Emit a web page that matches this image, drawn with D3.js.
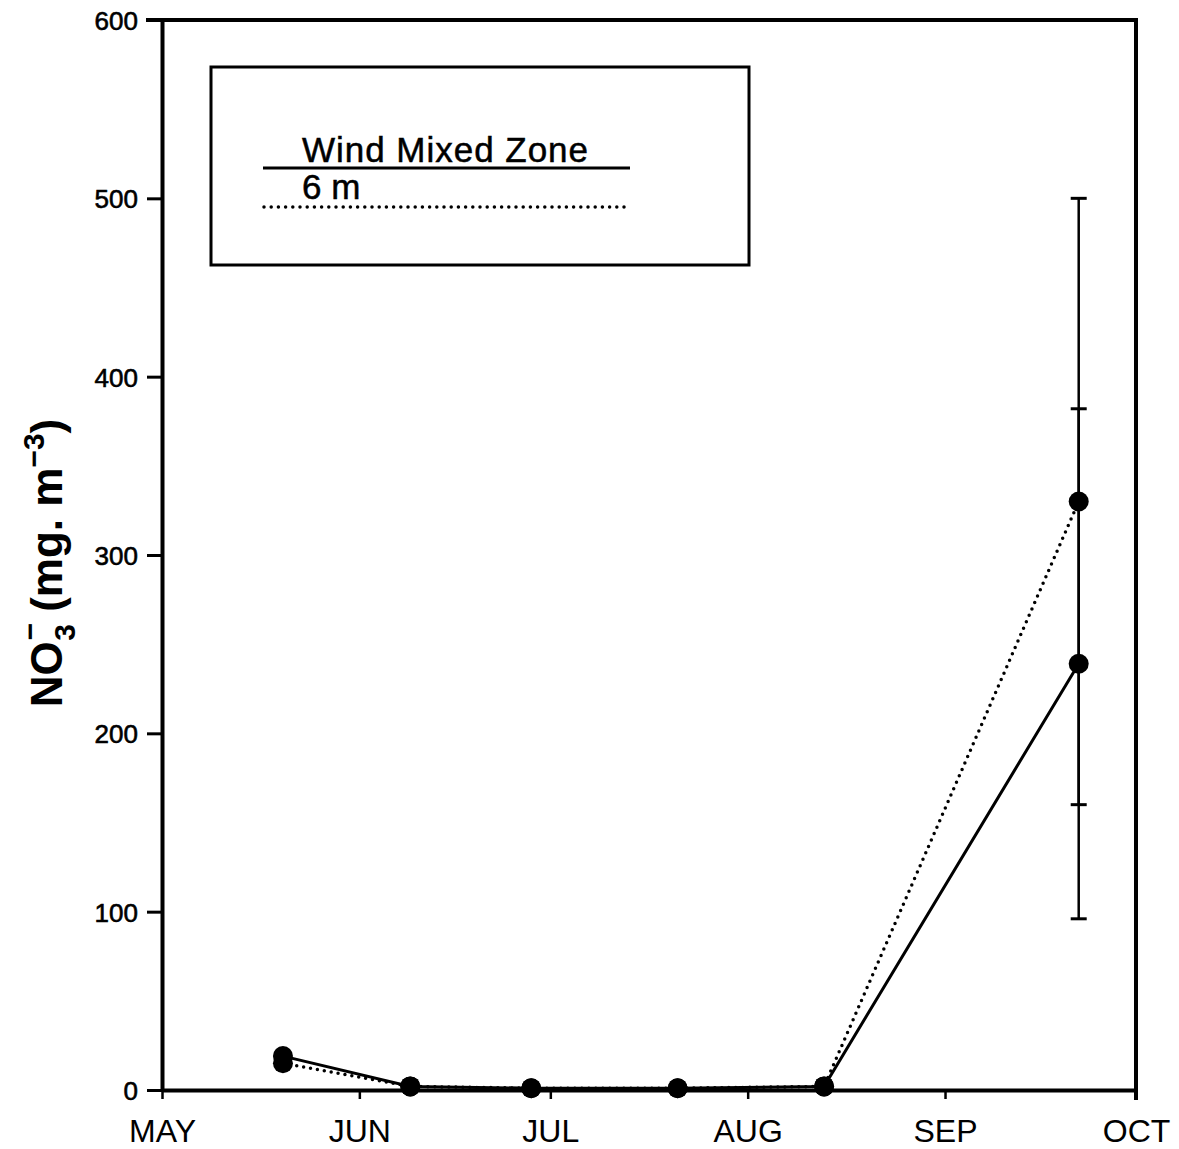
<!DOCTYPE html>
<html>
<head>
<meta charset="utf-8">
<script src="https://cdn.jsdelivr.net/npm/d3@7"></script>
<style>
  body { margin: 0; background: #fff; }
  text { font-family: "Liberation Sans", Arial, sans-serif; fill: #000; }
</style>
</head>
<body>
<script>
// sampling dates and values
var sampleDates = ["2001-05-20", "2001-06-09", "2001-06-28", "2001-07-21", "2001-08-13", "2001-09-22"];
var windMixed = [19, 2, 1, 1, 2, 239];
var windMixedErr = [0, 0, 0, 0, 0, 143];
var sixMetre = [15, 2, 1, 1, 2, 330];
var sixMetreErr = [0, 0, 0, 0, 0, 170];
var monthTicks = ["2001-05-01", "2001-06-01", "2001-07-01", "2001-08-01", "2001-09-01", "2001-10-01"];
var monthLabels = ["MAY", "JUN", "JUL", "AUG", "SEP", "OCT"];
var yTicks = [0, 100, 200, 300, 400, 500, 600];

var width = 1179, height = 1149;
var plotLeft = 162, plotRight = 1136, plotTop = 20, plotBottom = 1090;

var parse = d3.timeParse("%Y-%m-%d");

var svg = d3.select("body").append("svg")
	.attr("width", width)
	.attr("height", height);

var x = d3.scaleTime()
	.domain([parse(monthTicks[0]), parse(monthTicks[5])])
	.range([plotLeft, plotRight]);

var y = d3.scaleLinear()
	.domain([0, 600])
	.range([plotBottom, plotTop]);

// y axis
var yAxis = svg.append("g")
	.attr("transform", "translate(" + plotLeft + ",0)")
	.call(d3.axisLeft(y).tickValues(yTicks).tickSize(15).tickSizeOuter(0).tickPadding(9));
yAxis.select(".domain").attr("stroke-width", 4);
yAxis.selectAll(".tick line").attr("stroke-width", 3);
yAxis.selectAll(".tick text")
	.style("font-size", "26px")
	.attr("stroke", "#000").attr("stroke-width", 0.6)
	.attr("dy", "0.36em");

// x axis
var xAxis = svg.append("g")
	.attr("transform", "translate(0," + plotBottom + ")")
	.call(d3.axisBottom(x)
		.tickValues(monthTicks.map(parse))
		.tickFormat(function(d, i) { return monthLabels[i]; })
		.tickSize(9).tickSizeOuter(0).tickPadding(20));
xAxis.select(".domain").attr("stroke-width", 4);
xAxis.selectAll(".tick line").attr("stroke-width", 2.5);
xAxis.selectAll(".tick text").style("font-size", "32px");

// frame top and right
svg.append("line")
	.attr("x1", plotLeft - 16).attr("x2", plotRight + 2)
	.attr("y1", plotTop).attr("y2", plotTop)
	.attr("stroke", "#000").attr("stroke-width", 4);
svg.append("line")
	.attr("x1", plotRight).attr("x2", plotRight)
	.attr("y1", plotTop).attr("y2", plotBottom + 10)
	.attr("stroke", "#000").attr("stroke-width", 4);

// lines
var line = function(vals) {
	return d3.line()
		.x(function(d, i) { return x(parse(sampleDates[i])); })
		.y(function(d) { return y(d); })(vals);
};

svg.append("path")
	.attr("d", line(sixMetre))
	.attr("fill", "none")
	.attr("stroke", "#000")
	.attr("stroke-width", 3.5)
	.attr("stroke-linecap", "round")
	.attr("stroke-dasharray", "0,7");

svg.append("path")
	.attr("d", line(windMixed))
	.attr("fill", "none")
	.attr("stroke", "#000")
	.attr("stroke-width", 3);

// error bars
function errorBars(vals, errs) {
	var g = svg.append("g");
	vals.forEach(function(v, i) {
		if (!errs[i]) return;
		var cx = x(parse(sampleDates[i]));
		g.append("line")
			.attr("x1", cx).attr("x2", cx)
			.attr("y1", y(v - errs[i])).attr("y2", y(v + errs[i]))
			.attr("stroke", "#000").attr("stroke-width", 2.5);
		[v - errs[i], v + errs[i]].forEach(function(e) {
			g.append("line")
				.attr("x1", cx - 8).attr("x2", cx + 8)
				.attr("y1", y(e)).attr("y2", y(e))
				.attr("stroke", "#000").attr("stroke-width", 3);
		});
	});
}
errorBars(windMixed, windMixedErr);
errorBars(sixMetre, sixMetreErr);

// markers
[sixMetre, windMixed].forEach(function(vals) {
	svg.append("g").selectAll("circle")
		.data(vals)
		.enter().append("circle")
		.attr("cx", function(d, i) { return x(parse(sampleDates[i])); })
		.attr("cy", function(d) { return y(d); })
		.attr("r", 10)
		.attr("fill", "#000");
});

// legend
var legend = svg.append("g");
legend.append("rect")
	.attr("x", 211).attr("y", 67)
	.attr("width", 538).attr("height", 198)
	.attr("fill", "none")
	.attr("stroke", "#000")
	.attr("stroke-width", 3);
legend.append("text")
	.attr("x", 302).attr("y", 162)
	.style("font-size", "35px")
	.attr("stroke", "#000").attr("stroke-width", 0.5)
	.attr("textLength", 286)
	.text("Wind Mixed Zone");
legend.append("line")
	.attr("x1", 263).attr("x2", 630)
	.attr("y1", 168).attr("y2", 168)
	.attr("stroke", "#000").attr("stroke-width", 3);
legend.append("text")
	.attr("x", 302).attr("y", 199)
	.style("font-size", "35px")
	.attr("stroke", "#000").attr("stroke-width", 0.5)
	.text("6 m");
legend.append("line")
	.attr("x1", 264).attr("x2", 626)
	.attr("y1", 207).attr("y2", 207)
	.attr("stroke", "#000").attr("stroke-width", 3.5)
	.attr("stroke-linecap", "round")
	.attr("stroke-dasharray", "0,7.2");

// y axis title
var title = svg.append("text")
	.attr("transform", "translate(62,563) rotate(-90)")
	.attr("text-anchor", "middle")
	.style("font-size", "44px")
	.style("font-weight", "bold");
title.append("tspan").text("NO");
title.append("tspan").attr("font-size", "30px").attr("dy", "-22").attr("dx", "1").text("\u2212");
title.append("tspan").attr("font-size", "30px").attr("dy", "35").attr("dx", "-18").text("3");
title.append("tspan").attr("dy", "-13").text(" (mg. m");
title.append("tspan").attr("font-size", "30px").attr("dy", "-18").text("\u22123");
title.append("tspan").attr("dy", "18").text(")");
</script>
</body>
</html>
